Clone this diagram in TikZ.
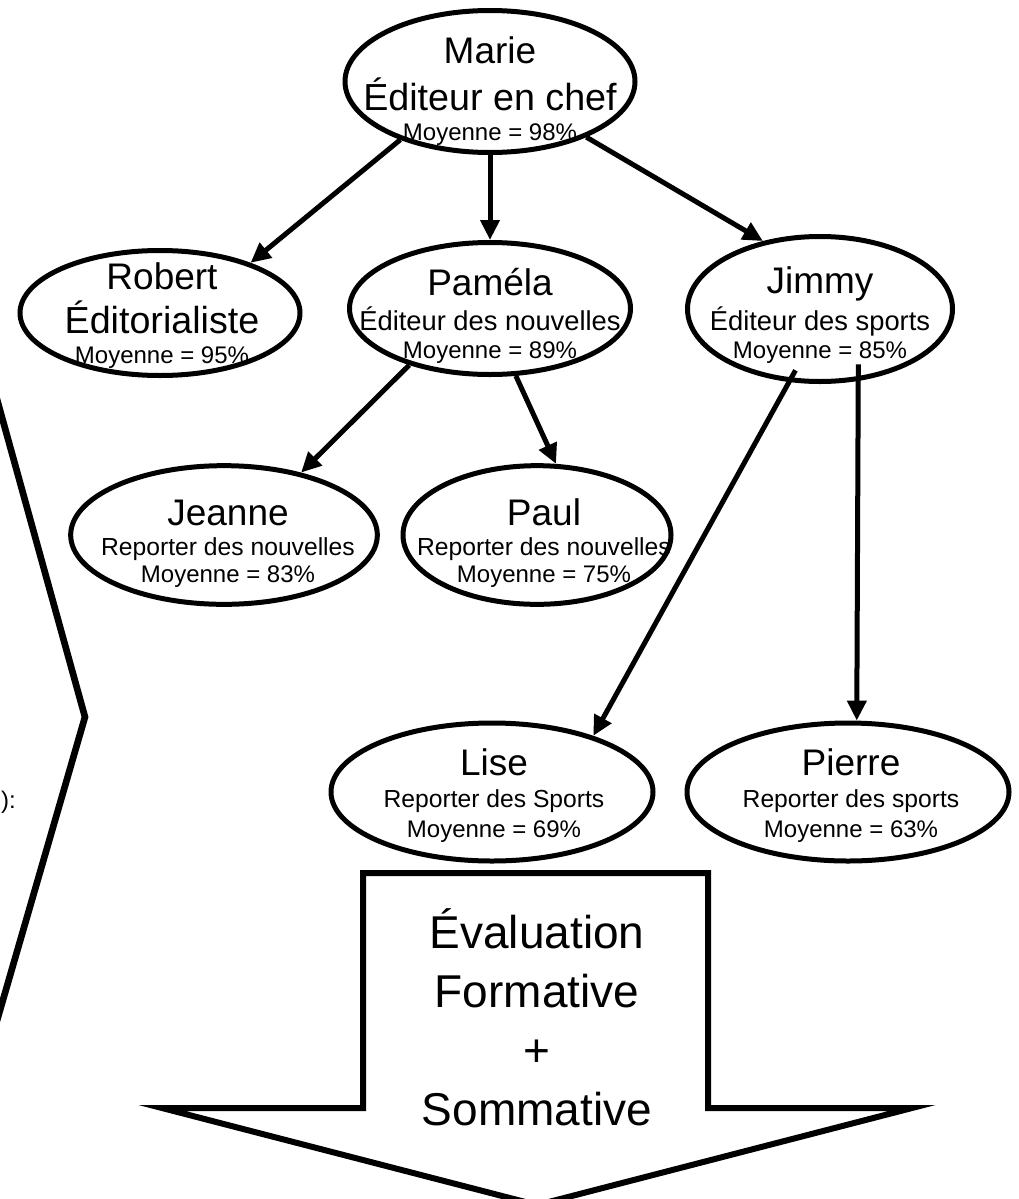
\documentclass[tikz,border=0pt]{standalone}
\usepackage{fontspec}
\setmainfont{Liberation Sans}
\usetikzlibrary{arrows.meta, shapes.geometric}

\begin{document}
\begin{tikzpicture}[x=0.75pt, y=-0.75pt,
  personne/.style={draw, ellipse, line width=3.75pt, inner sep=0pt},
  txt/.style={inner sep=0pt, anchor=base},
  nom/.style={txt, font=\fontsize{27.75}{32}\selectfont},
  titre/.style={txt, font=\fontsize{28.25}{32}\selectfont},
  poste/.style={txt, font=\fontsize{20.5}{24}\selectfont},
  reporter/.style={txt, font=\fontsize{18.5}{22}\selectfont},
  moy/.style={txt, font=\fontsize{18}{22}\selectfont},
  gros/.style={txt, font=\fontsize{34.5}{40}\selectfont},
  fleche/.style={line width=3.75pt, -{Triangle[length=15pt, width=14pt]}}]

\useasboundingbox (0,0) rectangle (1019,1199);
\clip (0,0) rectangle (1019,1199);

% --- Marie ---
\node[personne, minimum width=217.5pt, minimum height=106.5pt] (marie) at (490,81.5) {};
\node[nom] (marie1) at (490,63) {Marie};
\node[titre] (marie2) at (490,110) {Éditeur en chef};
\node[moy] (marie3) at (490,140) {Moyenne = 98\%};

% --- Robert ---
\node[personne, minimum width=210pt, minimum height=93.75pt] (robert) at (160,313) {};
\node[nom] (robert1) at (162,289) {Robert};
\node[titre] (robert2) at (162,333) {Éditorialiste};
\node[moy] (robert3) at (162,363) {Moyenne = 95\%};

% --- Pamela ---
\node[personne, minimum width=210.75pt, minimum height=99pt] (pamela) at (490,308.5) {};
\node[nom] (pamela1) at (490,295) {Paméla};
\node[poste] (pamela2) at (490,330) {Éditeur des nouvelles};
\node[moy] (pamela3) at (490,358) {Moyenne = 89\%};

% --- Jimmy ---
\node[personne, minimum width=198.75pt, minimum height=108.75pt] (jimmy) at (820,309) {};
\node[nom] (jimmy1) at (820,293) {Jimmy};
\node[poste] (jimmy2) at (820,330) {Éditeur des sports};
\node[moy] (jimmy3) at (820,358) {Moyenne = 85\%};

% --- Jeanne ---
\node[personne, minimum width=230pt, minimum height=104pt] (jeanne) at (224,535) {};
\node[nom] (jeanne1) at (228,525) {Jeanne};
\node[reporter] (jeanne2) at (228,555) {Reporter des nouvelles};
\node[moy] (jeanne3) at (228,582) {Moyenne = 83\%};

% --- Paul ---
\node[personne, minimum width=201pt, minimum height=104pt] (paul) at (537,535) {};
\node[nom] (paul1) at (544,525) {Paul};
\node[reporter] (paul2) at (544,555) {Reporter des nouvelles};
\node[moy] (paul3) at (544,582) {Moyenne = 75\%};

% --- Lise ---
\node[personne, minimum width=241.5pt, minimum height=103.5pt] (lise) at (492,792) {};
\node[nom] (lise1) at (494,775) {Lise};
\node[reporter] (lise2) at (494,807) {Reporter des Sports};
\node[moy] (lise3) at (494,837) {Moyenne = 69\%};

% --- Pierre ---
\node[personne, minimum width=241.5pt, minimum height=103.5pt] (pierre) at (848,792) {};
\node[nom] (pierre1) at (851,775) {Pierre};
\node[reporter] (pierre2) at (851,807) {Reporter des sports};
\node[moy] (pierre3) at (851,837) {Moyenne = 63\%};

% liens hierarchiques
\draw[fleche] (marie.213) -- (robert.29);
\draw[fleche] (marie.south) -- (pamela.north);
\draw[fleche] (marie.-30) -- (jimmy.130);
\draw[fleche] (pamela.215) -- (jeanne.39);
\draw[fleche] (pamela.-69) -- (paul.75);
\draw[fleche, shorten <=-10pt] (jimmy.-113) -- (lise.29);
\draw[fleche, shorten <=-12.5pt] (jimmy.-62) -- (pierre.83);

% --- grosse fleche ---
\draw[line width=4.5pt, line join=miter] (363,873) -- (708,873) -- (708,1108) -- (912,1108)
  -- (537,1205) -- (162,1108) -- (363,1108) -- cycle;
\node[gros] (eval1) at (537,948) {Évaluation};
\node[gros] (eval2) at (537,1007) {Formative};
\node[gros] (eval3) at (537,1066) {+};
\node[gros] (eval4) at (537,1125) {Sommative};

% accolade gauche (coupee)
\draw[line width=5pt, line join=miter] (-15,356) -- (85,717) -- (-15,1062);
\node[moy, anchor=base east] (note) at (16,808) {):};

\end{tikzpicture}
\end{document}
